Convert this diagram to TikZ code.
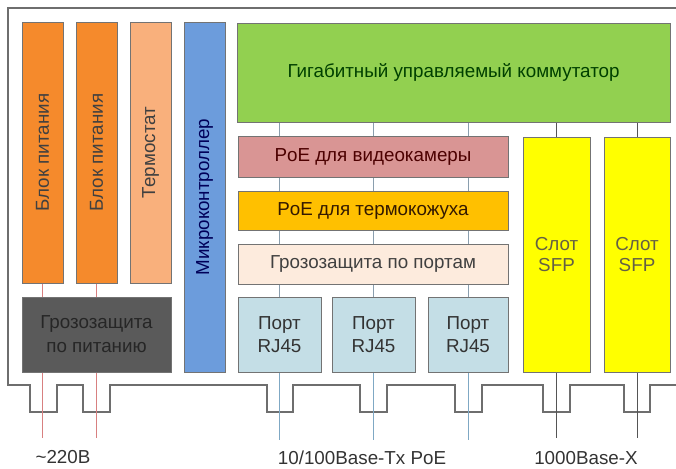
\documentclass[tikz,border=0pt]{standalone}
\usepackage{fontspec}
\setmainfont{Liberation Sans}
\definecolor{orng}{HTML}{F58A2C}
\definecolor{thermo}{HTML}{F9B07C}
\definecolor{mcblue}{HTML}{6C9CDC}
\definecolor{dgray}{HTML}{5A5A5A}
\definecolor{swgreen}{HTML}{92D050}
\definecolor{rose}{HTML}{D99594}
\definecolor{amber}{HTML}{FFC000}
\definecolor{peach}{HTML}{FDEBDD}
\definecolor{portblue}{HTML}{C4DEE6}
\definecolor{sfpyel}{HTML}{FFFF00}
\definecolor{encl}{HTML}{6E6E6E}
\definecolor{pwrline}{HTML}{D88080}
\definecolor{netline}{HTML}{7FA8C4}
\definecolor{inline}{HTML}{8A9EAE}
\definecolor{sfpline}{HTML}{555555}
\tikzset{
  blk/.style={draw=black!55, line width=0.8pt, anchor=north west, inner sep=0pt, outer sep=0pt, align=center},
  vtxt/.style={rotate=90},
  enclosure/.style={draw=encl, line width=1.2pt},
  pwr/.style={draw=pwrline, line width=0.9pt},
  net/.style={draw=netline, line width=0.9pt},
  inl/.style={draw=inline, line width=0.9pt},
  sfpl/.style={draw=sfpline, line width=0.9pt},
  lbl/.style={font=\fontsize{18.8}{22}\selectfont, text=black!80}
}
\begin{document}
\begin{tikzpicture}[x=1pt,y=-1pt]
\useasboundingbox (0,0) rectangle (676,468);
% enclosure
\draw[enclosure] (676,8) -- (8,8) -- (8,385) -- (30,385) -- (30,412) -- (57,412) -- (57,385)
  -- (83,385) -- (83,412) -- (110,412) -- (110,385)
  -- (267,385) -- (267,412) -- (293,412) -- (293,385)
  -- (360,385) -- (360,412) -- (387,412) -- (387,385)
  -- (455,385) -- (455,412) -- (482,412) -- (482,385)
  -- (543,385) -- (543,412) -- (570,412) -- (570,385)
  -- (624,385) -- (624,412) -- (650,412) -- (650,385) -- (676,385);
% boxes
\node[blk, fill=orng, minimum width=41, minimum height=261] (bp1) at (22,22) {};
\node[blk, fill=orng, minimum width=41, minimum height=261] (bp2) at (76,22) {};
\node[blk, fill=thermo, minimum width=41, minimum height=261] (th) at (130,22) {};
\node[blk, fill=mcblue, minimum width=41, minimum height=350] (mc) at (184,22) {};
\node[blk, fill=dgray, minimum width=149, minimum height=75] (gp) at (22,297) {};
\node[blk, fill=swgreen, minimum width=433, minimum height=99] (sw) at (237,23) {};
\node[blk, fill=rose, minimum width=270, minimum height=41] (poe1) at (238,136) {};
\node[blk, fill=amber, minimum width=270, minimum height=39] (poe2) at (238,191) {};
\node[blk, fill=peach, minimum width=270, minimum height=40] (gpp) at (238,244) {};
\node[blk, fill=portblue, minimum width=83, minimum height=75] (p1) at (238,297) {};
\node[blk, fill=portblue, minimum width=83, minimum height=75] (p2) at (332,297) {};
\node[blk, fill=portblue, minimum width=80, minimum height=75] (p3) at (428,297) {};
\node[blk, fill=sfpyel, minimum width=67, minimum height=235] (s1) at (523,137) {};
\node[blk, fill=sfpyel, minimum width=66, minimum height=235] (s2) at (604,137) {};
% free ends
\coordinate (e1) at (bp1.center |- 0,438);
\coordinate (e2) at (bp2.center |- 0,438);
\coordinate (e3) at (p1.center |- 0,440);
\coordinate (e4) at (p2.center |- 0,440);
\coordinate (e5) at (p3.center |- 0,440);
\coordinate (e6) at (s1.center |- 0,438);
\coordinate (e7) at (s2.center |- 0,438);
% connectors
\draw[pwr] (bp1.south) -- (e1);
\draw[pwr] (bp2.south) -- (e2);
\draw[inl] (sw.south -| p1.north) -- (p1.north);
\draw[inl] (sw.south -| p2.north) -- (p2.north);
\draw[inl] (sw.south -| p3.north) -- (p3.north);
\draw[net] (p1.south) -- (e3);
\draw[net] (p2.south) -- (e4);
\draw[net] (p3.south) -- (e5);
\draw[sfpl] (sw.south -| s1.north) -- (s1.north);
\draw[sfpl] (sw.south -| s2.north) -- (s2.north);
\draw[sfpl] (s1.south) -- (e6);
\draw[sfpl] (s2.south) -- (e7);
% boxes redrawn on top of the connectors
\node[blk, fill=orng, minimum width=41, minimum height=261] at (22,22) {};
\node[blk, fill=orng, minimum width=41, minimum height=261] at (76,22) {};
\node[blk, fill=thermo, minimum width=41, minimum height=261] at (130,22) {};
\node[blk, fill=mcblue, minimum width=41, minimum height=350] at (184,22) {};
\node[blk, fill=dgray, minimum width=149, minimum height=75] at (22,297) {};
\node[blk, fill=swgreen, minimum width=433, minimum height=99] at (237,23) {};
\node[blk, fill=rose, minimum width=270, minimum height=41] at (238,136) {};
\node[blk, fill=amber, minimum width=270, minimum height=39] at (238,191) {};
\node[blk, fill=peach, minimum width=270, minimum height=40] at (238,244) {};
\node[blk, fill=portblue, minimum width=83, minimum height=75] at (238,297) {};
\node[blk, fill=portblue, minimum width=83, minimum height=75] at (332,297) {};
\node[blk, fill=portblue, minimum width=80, minimum height=75] at (428,297) {};
\node[blk, fill=sfpyel, minimum width=67, minimum height=235] at (523,137) {};
\node[blk, fill=sfpyel, minimum width=66, minimum height=235] at (604,137) {};
% texts
\node[lbl, vtxt, text=black!75] (t1) at (bp1.center) {Блок питания};
\node[lbl, vtxt, text=black!75] (t2) at (bp2.center) {Блок питания};
\node[lbl, vtxt, text=black!75] (t3) at (th.center) {Термостат};
\node[lbl, vtxt, text=blue!35!black] (t4) at (mc.center) {Микроконтроллер};
\node[lbl, align=center, text=black!85, font=\fontsize{18.8}{24}\selectfont] (t5) at (gp.center) {Грозозащита\\по питанию};
\node[lbl, text=green!25!black] (t6) at (sw.center) {Гигабитный управляемый коммутатор};
\node[lbl, text=red!30!black] (t7) at (poe1.center) {PoE для видеокамеры};
\node[lbl, text=black!80!orange] (t8) at (poe2.center) {PoE для термокожуха};
\node[lbl, text=black!75] (t9) at (gpp.center) {Грозозащита по портам};
\node[lbl, align=center, font=\fontsize{18.8}{23}\selectfont] (t10) at (p1.center) {Порт\\RJ45};
\node[lbl, align=center, font=\fontsize{18.8}{23}\selectfont] (t11) at (p2.center) {Порт\\RJ45};
\node[lbl, align=center, font=\fontsize{18.8}{23}\selectfont] (t12) at (p3.center) {Порт\\RJ45};
\node[lbl, align=center, text=black!70!yellow, font=\fontsize{18.8}{21}\selectfont] (t13) at (s1.center) {Слот\\SFP};
\node[lbl, align=center, text=black!70!yellow, font=\fontsize{18.8}{21}\selectfont] (t14) at (s2.center) {Слот\\SFP};
% bottom labels
\node[lbl] (l1) at (63,457) {\textasciitilde220В};
\node[lbl] (l2) at (362,458) {10/100Base-Tx PoE};
\node[lbl] (l3) at (586,458) {1000Base-X};
\end{tikzpicture}
\end{document}
